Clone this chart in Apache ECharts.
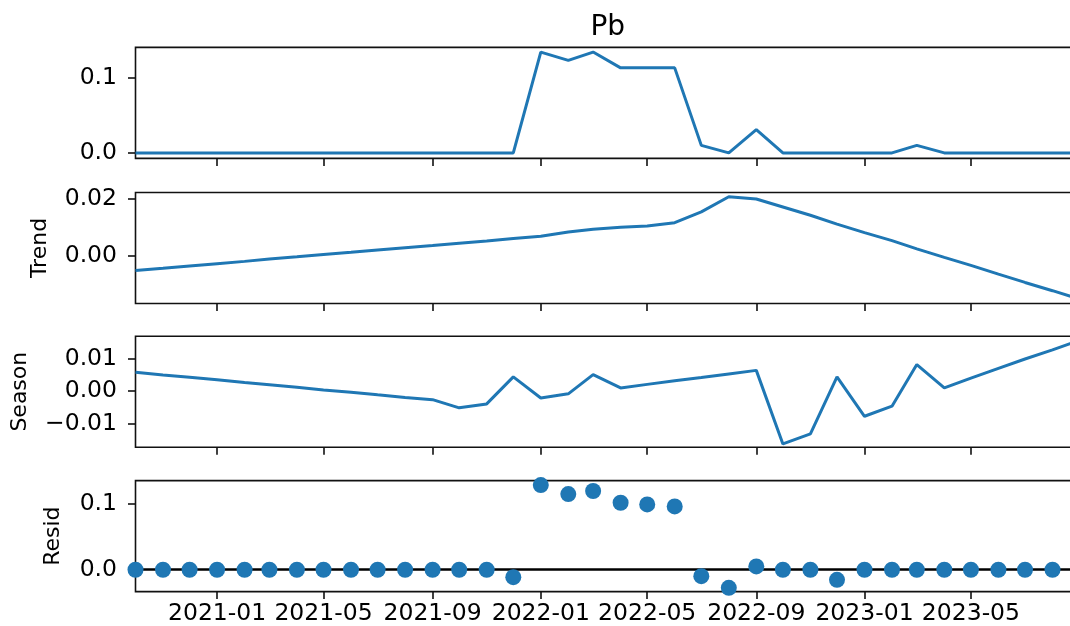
<!DOCTYPE html>
<html>
<head>
<meta charset="utf-8">
<script src="https://cdn.jsdelivr.net/npm/echarts@6/dist/echarts.min.js"></script>
<style>
  html, body { margin: 0; padding: 0; background: #fff; overflow: hidden; }
  #chart { width: 1090px; height: 626px; }
</style>
</head>
<body>
<div id="chart"></div>
<script>
// ---- data ----
const months = [
  '2020-10-01','2020-11-01','2020-12-01',
  '2021-01-01','2021-02-01','2021-03-01','2021-04-01','2021-05-01','2021-06-01',
  '2021-07-01','2021-08-01','2021-09-01','2021-10-01','2021-11-01','2021-12-01',
  '2022-01-01','2022-02-01','2022-03-01','2022-04-01','2022-05-01','2022-06-01',
  '2022-07-01','2022-08-01','2022-09-01','2022-10-01','2022-11-01','2022-12-01',
  '2023-01-01','2023-02-01','2023-03-01','2023-04-01','2023-05-01','2023-06-01',
  '2023-07-01','2023-08-01','2023-09-01'
];
const observed = [
  0,0,0, 0,0,0,0,0,0, 0,0,0,0,0,0,
  0.134,0.123,0.134,0.113,0.113,0.113, 0.010,0.000,0.031,0,0,0,
  0,0,0.010,0,0,0, 0,0,0
];
const trend = [
  -0.0053,-0.0045,-0.0037, -0.0029,-0.0021,-0.0013,-0.0005,0.0003,0.0011,
  0.0019,0.0027,0.0035,0.0043,0.0051,0.0059,
  0.0067,0.0082,0.0092,0.0099,0.0103,0.0115, 0.0153,0.0206,0.0198,0.0170,0.0141,0.0110,
  0.0080,0.0052,0.0023,-0.0007,-0.0035,-0.0066, -0.0095,-0.0124,-0.0154
];
const season = [
  0.0058,0.0050,0.0043, 0.0035,0.0027,0.0020,0.0012,0.0004,-0.0003,
  -0.0011,-0.0019,-0.0026,-0.0051,-0.0039,0.0044,
  -0.0021,-0.0008,0.0051,0.0010,0.0021,0.0032, 0.0042,0.0053,0.0064,-0.0162,-0.0131,0.0044,
  -0.0077,-0.0046,0.0082,0.0010,0.0040,0.0070, 0.0099,0.0127,0.0157
];
const resid = [
  0,0,0, 0,0,0,0,0,0, 0,0,0,0,0,-0.0112,
  0.1277,0.1141,0.1187,0.1010,0.0985,0.0955, -0.0097,-0.0273,0.0050,0.0,0.0,-0.0152,
  0,0,0,0,0,0, 0,0,0
];
const xTickLabels = ['2021-01','2021-05','2021-09','2022-01','2022-05','2022-09','2023-01','2023-05'];
const obsTicks = [0, 0.1];       const obsTickLabels = ['0.0', '0.1'];
const trendTicks = [0, 0.02];    const trendTickLabels = ['0.00', '0.02'];
const seasonTicks = [-0.01, 0, 0.01]; const seasonTickLabels = ['\u22120.01', '0.00', '0.01'];
const residTicks = [0, 0.1];     const residTickLabels = ['0.0', '0.1'];
const title = 'Pb';
const panelNames = ['', 'Trend', 'Season', 'Resid'];

// ---- build ----
const FONT = 'DejaVu Sans';
const BLUE = '#1f77b4';
const TICK_FS = 23.5;
const NAME_FS = 22;
const parse = s => Date.UTC(+s.slice(0, 4), +s.slice(5, 7) - 1, 1);
const xTickValues = xTickLabels.map(l => parse(l + '-01'));
const pair = arr => months.map((m, i) => [parse(m), arr[i]]);

const tops = [47.4, 192.5, 336.2, 480.6];
const H = 111;
const grids = tops.map(t => ({
  left: 135.5, right: 10, top: t, height: H,
  show: true, borderColor: '#111', borderWidth: 1.6, backgroundColor: 'transparent'
}));

const xAxes = tops.map((t, i) => ({
  type: 'value', gridIndex: i, min: 'dataMin', max: 'dataMax', scale: true,
  axisLine: { show: false, onZero: false },
  splitLine: { show: false },
  axisTick: { show: true, length: 7.5, customValues: xTickValues, lineStyle: { color: '#111', width: 1.6 } },
  axisLabel: {
    show: i === 3, customValues: xTickValues, margin: 10,
    fontFamily: FONT, fontSize: TICK_FS, color: '#000',
    formatter: v => { const k = xTickValues.indexOf(v); return k >= 0 ? xTickLabels[k] : ''; }
  }
}));

function yAxis(i, min, max, ticks, labels, nameGap) {
  return {
    type: 'value', gridIndex: i, min: min, max: max,
    name: panelNames[i], nameLocation: 'middle', nameRotate: 90, nameGap: nameGap,
    nameTextStyle: { fontFamily: FONT, fontSize: NAME_FS, color: '#000' },
    axisLine: { show: false, onZero: false },
    splitLine: { show: false },
    axisTick: { show: true, length: 7.5, customValues: ticks, lineStyle: { color: '#111', width: 1.6 } },
    axisLabel: {
      customValues: ticks, margin: 18.5, fontFamily: FONT, fontSize: TICK_FS, color: '#000',
      formatter: v => { const k = ticks.findIndex(t => Math.abs(t - v) < 1e-9); return k >= 0 ? labels[k] : ''; }
    }
  };
}

const option = {
  animation: false,
  backgroundColor: '#fff',
  title: {
    text: title, left: 607.75, top: 14, textAlign: 'center', padding: 0,
    textStyle: { fontFamily: FONT, fontSize: 28, fontWeight: 'normal', color: '#000' }
  },
  grid: grids,
  xAxis: xAxes,
  yAxis: [
    yAxis(0, -0.0073, 0.1402, obsTicks, obsTickLabels, 0),
    yAxis(1, -0.0169, 0.0221, trendTicks, trendTickLabels, 84),
    yAxis(2, -0.0172, 0.0169, seasonTicks, seasonTickLabels, 104),
    yAxis(3, -0.0330, 0.1344, residTicks, residTickLabels, 71)
  ],
  series: [
    { type: 'line', xAxisIndex: 0, yAxisIndex: 0, data: pair(observed), showSymbol: false,
      lineStyle: { color: BLUE, width: 3 }, itemStyle: { color: BLUE } },
    { type: 'line', xAxisIndex: 1, yAxisIndex: 1, data: pair(trend), showSymbol: false,
      lineStyle: { color: BLUE, width: 3 }, itemStyle: { color: BLUE } },
    { type: 'line', xAxisIndex: 2, yAxisIndex: 2, data: pair(season), showSymbol: false,
      lineStyle: { color: BLUE, width: 3 }, itemStyle: { color: BLUE } },
    { type: 'scatter', xAxisIndex: 3, yAxisIndex: 3, data: pair(resid), symbolSize: 16,
      itemStyle: { color: BLUE, opacity: 1 }, z: 3,
      markLine: { silent: true, symbol: 'none', label: { show: false }, z: 1,
        lineStyle: { color: '#000', width: 2.5, type: 'solid' },
        data: [{ yAxis: 0 }] } }
  ]
};
const chart = echarts.init(document.getElementById('chart'), null, { renderer: 'canvas' });
chart.setOption(option);
</script>
</body>
</html>
